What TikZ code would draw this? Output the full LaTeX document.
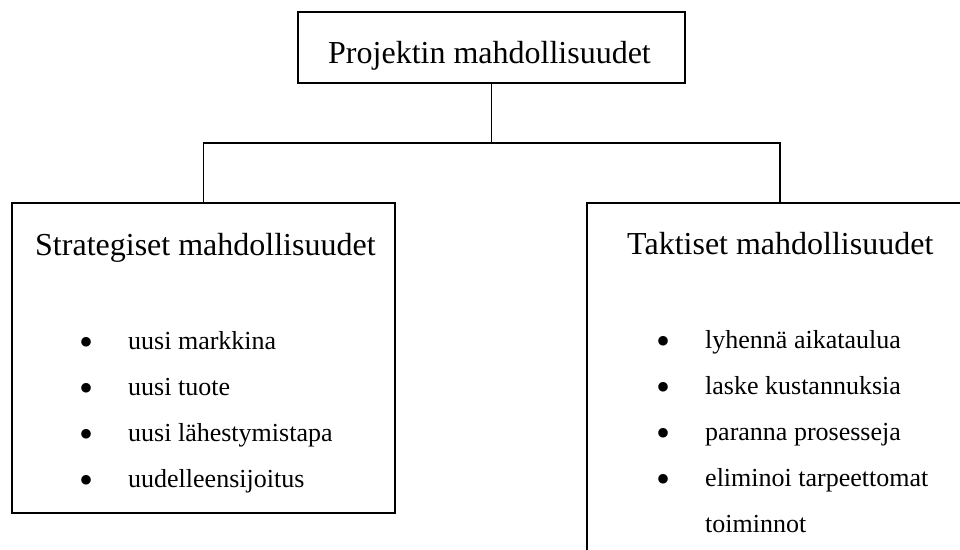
\documentclass[tikz,border=0pt]{standalone}
\usepackage{fontspec}
\setmainfont{Liberation Serif}
\begin{document}
\begin{tikzpicture}[x=1pt,y=-1pt,
  box/.style={draw=black,line width=1.8pt,rectangle,inner sep=0pt},
  link/.style={draw=black,line width=1.3pt},
  head/.style={font=\fontsize{32}{38}\selectfont,anchor=base west,inner sep=0pt},
  item/.style={font=\fontsize{26}{31}\selectfont,anchor=base west,inner sep=0pt},
  dot/.style={font=\fontsize{40}{46}\selectfont,anchor=center,inner sep=0pt}]
\useasboundingbox (0,0) rectangle (960,549);
\clip (0,0) rectangle (960,549);

% boxes
\node[box,minimum width=387pt,minimum height=71pt] (top) at (491.5,47.5) {};
\node[box,minimum width=383pt,minimum height=310pt] (strat) at (203.5,358) {};
\node[box,minimum width=386pt,minimum height=370pt] (takt) at (780,388) {};

% connectors
\coordinate (hub) at (491.5,143);
\draw[link] (top.south) -- (hub);
\draw[link] (strat.north) |- (hub) -| (takt.north);

% titles
\node[head] (ttop) at (328,63) {Projektin mahdollisuudet};
\node[head] (tstrat) at (35,255) {Strategiset mahdollisuudet};
\node[head] (ttakt) at (627,254) {Taktiset mahdollisuudet};

% left list
\foreach \i/\t in {0/uusi markkina,1/uusi tuote,2/uusi lähestymistapa,3/uudelleensijoitus}{
  \node[dot] (sd\i) at (87,346+46*\i) {•};
  \node[item] (si\i) at (128,349+46*\i) {\t};
}

% right list
\foreach \i/\t in {0/lyhennä aikataulua,1/laske kustannuksia,2/paranna prosesseja,3/eliminoi tarpeettomat}{
  \node[dot] (td\i) at (663,345+46*\i) {•};
  \node[item] (ti\i) at (705,348+46*\i) {\t};
}
\node[item] (ti4) at (705,532) {toiminnot};
\end{tikzpicture}
\end{document}
